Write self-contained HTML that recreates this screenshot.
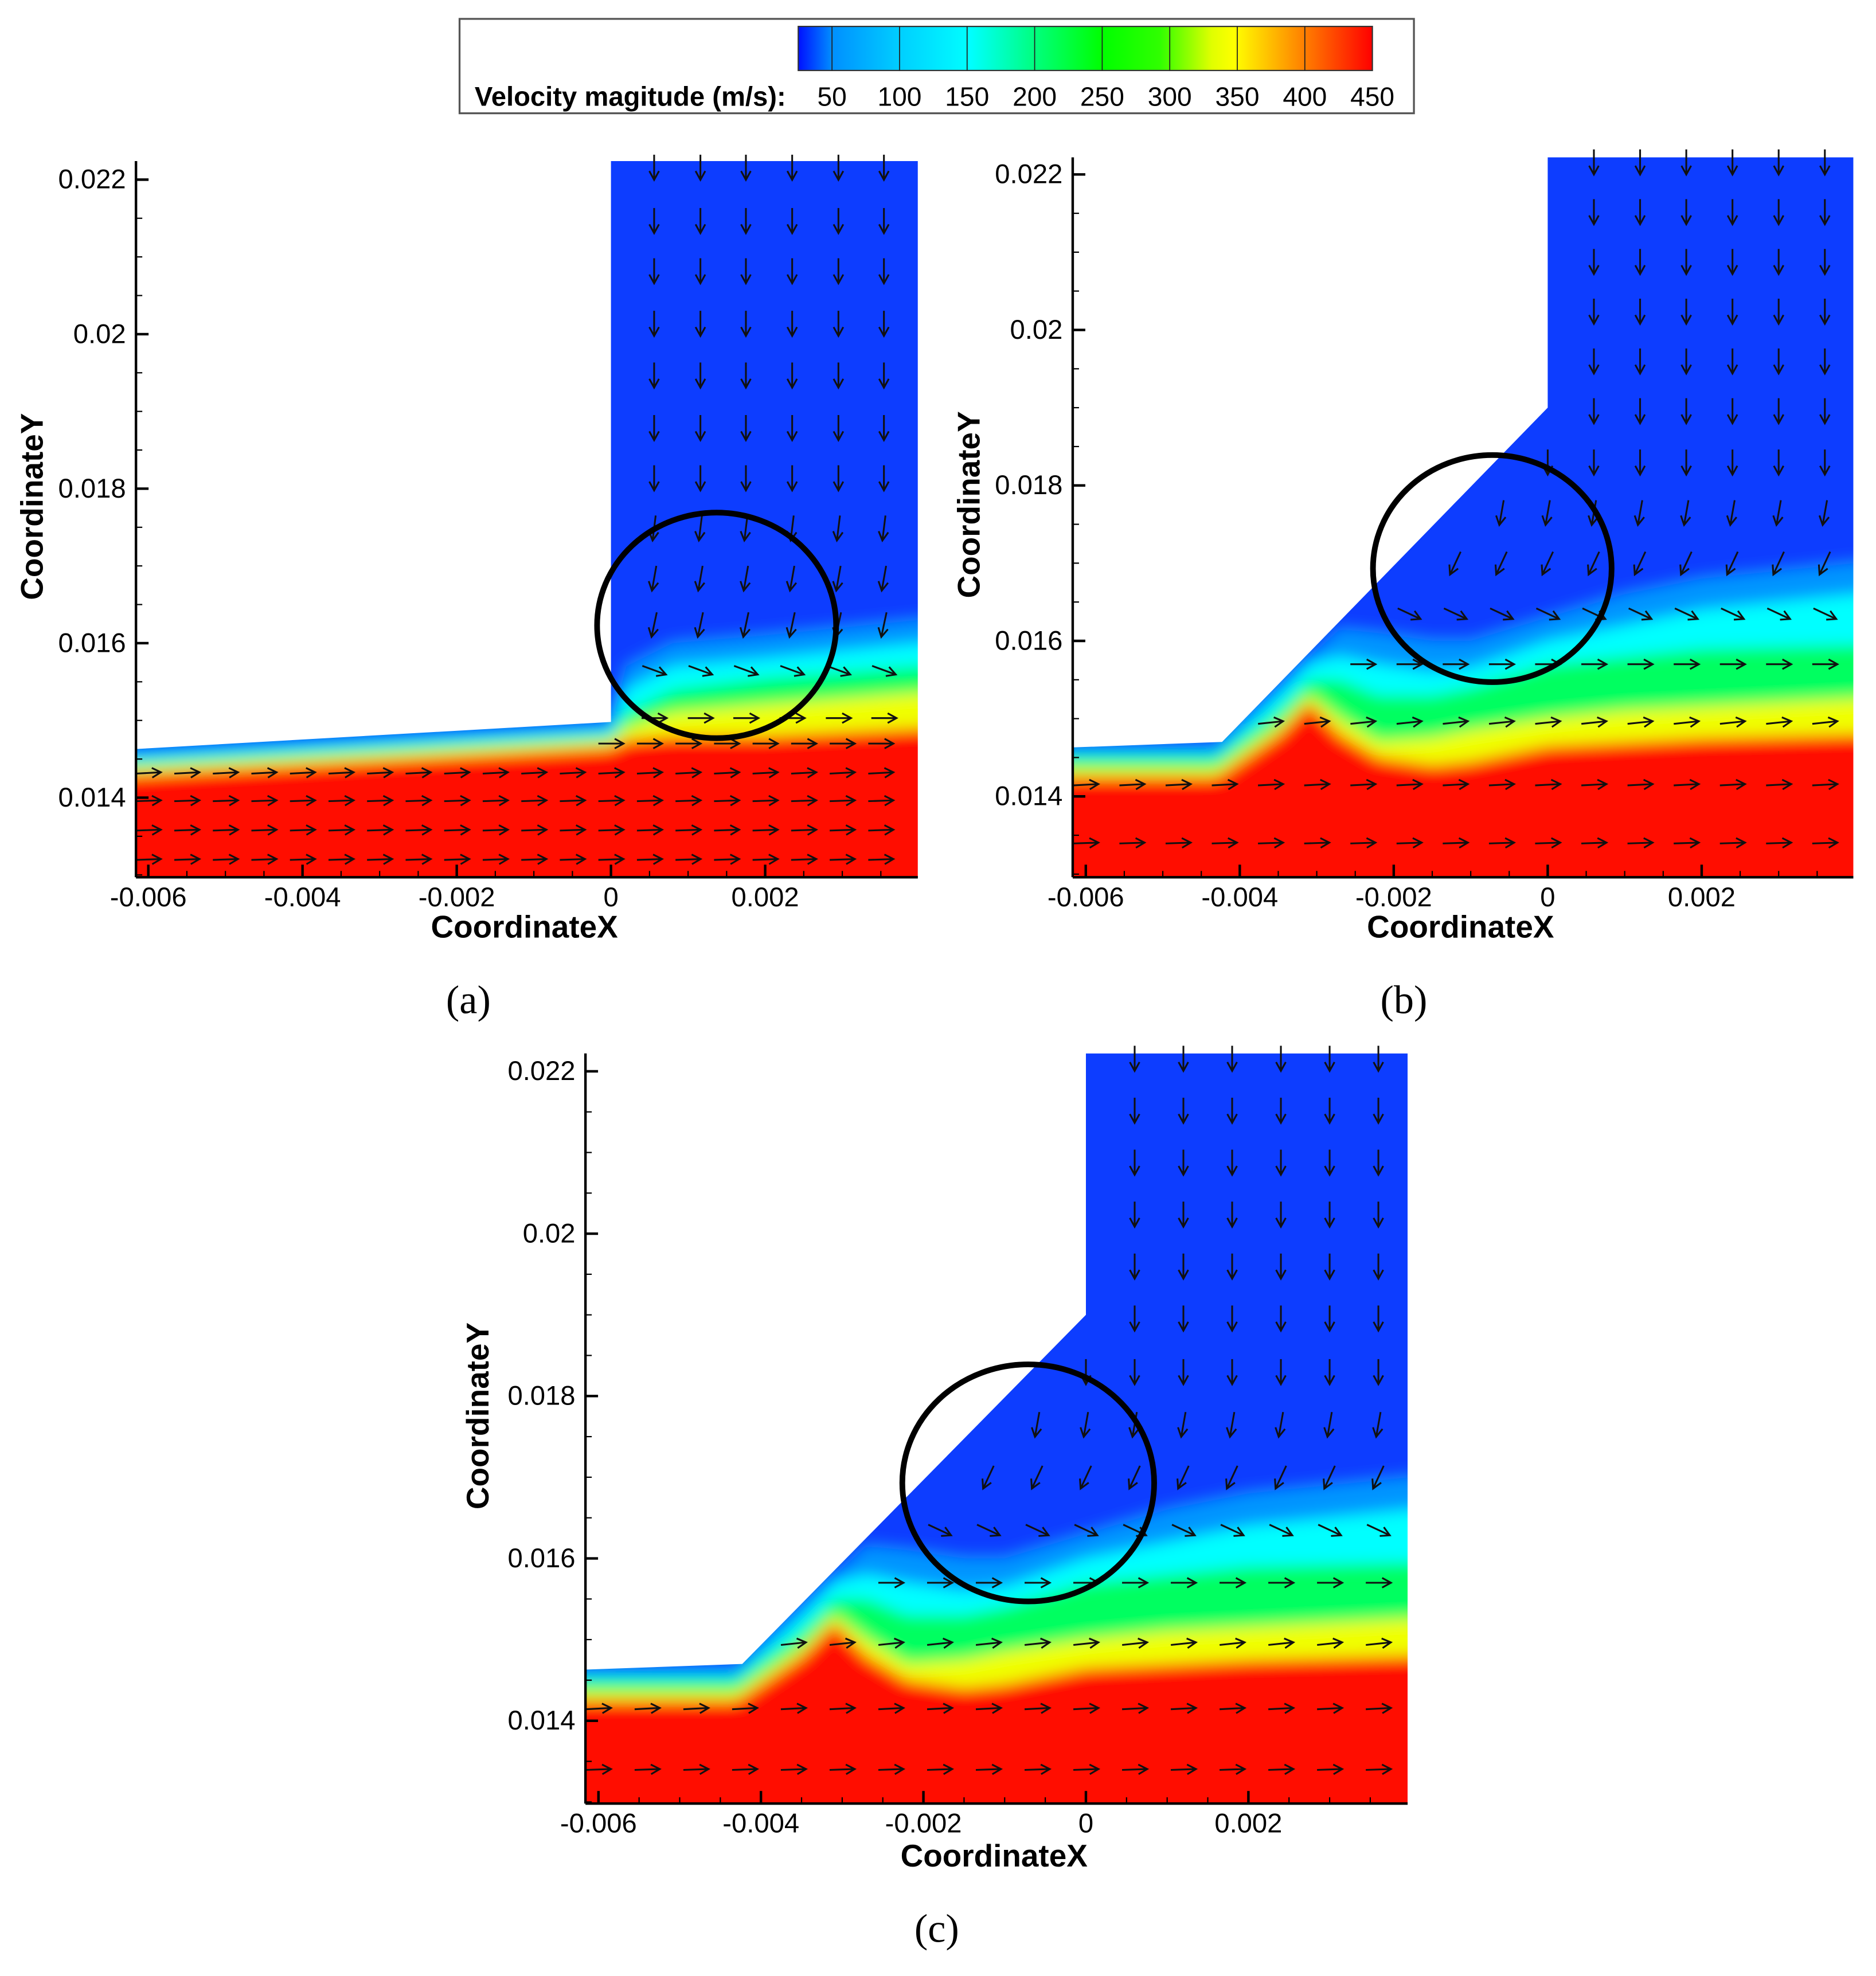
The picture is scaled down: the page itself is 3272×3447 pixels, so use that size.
<!DOCTYPE html>
<html><head><meta charset="utf-8"><style>
html,body{margin:0;padding:0;background:#fff}
svg{display:block}
text{font-family:"Liberation Sans",Arial,sans-serif}
</style></head><body>
<svg id="fig" xmlns="http://www.w3.org/2000/svg" width="3272" height="3447" viewBox="0 0 1490 1570" preserveAspectRatio="none">
<defs>
<linearGradient id="cbar" x1="0" x2="1" y1="0" y2="0">
<stop offset="0" stop-color="#0010ff"/><stop offset="0.06" stop-color="#0090ff"/>
<stop offset="0.18" stop-color="#00d0ff"/><stop offset="0.3" stop-color="#00ffff"/>
<stop offset="0.41" stop-color="#00ff80"/><stop offset="0.53" stop-color="#00ff00"/>
<stop offset="0.63" stop-color="#30ff00"/><stop offset="0.72" stop-color="#e0ff00"/>
<stop offset="0.76" stop-color="#ffff00"/><stop offset="0.88" stop-color="#ff8000"/>
<stop offset="1" stop-color="#ff0000"/>
</linearGradient>
<filter id="blur" x="-5%" y="-5%" width="110%" height="110%"><feGaussianBlur stdDeviation="6"/></filter>
</defs>
<g>
<rect x="365" y="15" width="758" height="75" fill="#fff" stroke="#555" stroke-width="1.5"/>
<rect x="634" y="21" width="456" height="35" fill="url(#cbar)" stroke="#333" stroke-width="1"/>
<g id="cbdiv"></g>
<text x="377" y="84" font-size="21.5" font-weight="bold">Velocity magitude (m/s):</text>
<g id="cblabels"></g>
</g>
<g id="panels"></g>
</svg>
<script>
const NS="http://www.w3.org/2000/svg";
const svg=document.getElementById('fig');
function mk(tag,attrs,parent){const e=document.createElementNS(NS,tag);for(const k in attrs)e.setAttribute(k,attrs[k]);(parent||svg).appendChild(e);return e;}

// legend data
const cbValues=[50,100,150,200,250,300,350,400,450];
const cbMin=25, cbMax=450;
// tick data
const xTickVals=[-0.006,-0.004,-0.002,0,0.002];
const xTickLabels=["-0.006","-0.004","-0.002","0","0.002"];
const yTickVals=[0.014,0.016,0.018,0.02,0.022];
const yTickLabels=["0.014","0.016","0.018","0.02","0.022"];

// panel a geometry & levels
const aWallX=[-0.0062,0];
const aWallY=[0.01463,0.01498];
const aLevelX=[-0.0062,0,0.0002,0.0008,0.002,0.004];
const aL100=[0.01458,0.01493,0.0157,0.0160,0.0161,0.0163];
const aL150=[0.01453,0.01488,0.0154,0.0157,0.0158,0.0160];
const aL200=[0.01446,0.01481,0.0151,0.0154,0.01555,0.0157];
const aL300=[0.01438,0.01473,0.0149,0.0151,0.0152,0.01535];
const aL400=[0.0143,0.01465,0.01475,0.0148,0.0148,0.0149];
const aArrowX=[0.00056,0.00116,0.00175,0.00235,0.00295,0.00354];
const aArrowY=[0.02216,0.02147,0.02082,0.02014,0.01947,0.01879,0.01814,0.01749,0.01684,0.01624,0.01565,0.01503];
const aArrowAng=[90,90,90,90,90,90,90,97,100,102,20,0];
const aLowX=[-0.006,-0.0055,-0.005,-0.0045,-0.004,-0.0035,-0.003,-0.0025,-0.002,-0.0015,-0.001,-0.0005,0,0.0005,0.001,0.0015,0.002,0.0025,0.003,0.0035];
const aLowY=[0.01470,0.01432,0.01396,0.01358,0.01320];
const aLowAng=[0,-3,-2,-2,-2];

// panel b/c geometry & levels (same flow geometry)
const bWallX=[-0.0062,-0.00423,0];
const bWallY=[0.01463,0.0147,0.019];
const bLevelX=[-0.0062,-0.0043,-0.0035,-0.0031,-0.0027,-0.0022,-0.0015,-0.001,0,0.001,0.002,0.004];
const bL100=[0.0146,0.01463,0.01538,0.01578,0.01615,0.0161,0.0160,0.0160,0.0163,0.0166,0.0168,0.0170];
const bL150=[0.01455,0.01455,0.0153,0.0157,0.0158,0.0157,0.0156,0.01565,0.0160,0.0162,0.0164,0.0166];
const bL200=[0.0145,0.0145,0.0151,0.0155,0.0155,0.0153,0.0153,0.0154,0.0157,0.0158,0.0159,0.01595];
const bL300=[0.01435,0.01435,0.0149,0.0153,0.0150,0.0147,0.01475,0.01485,0.0150,0.0151,0.01515,0.01525];
const bL400=[0.01425,0.01425,0.0148,0.0152,0.0148,0.0145,0.0144,0.01445,0.01465,0.0147,0.01475,0.0148];
const bArrowX=[-0.006,-0.0054,-0.0048,-0.0042,-0.0036,-0.003,-0.0024,-0.0018,-0.0012,-0.0006,0,0.0006,0.0012,0.0018,0.0024,0.003,0.0036];
const bArrowY=[0.02216,0.02152,0.02088,0.02024,0.0196,0.01896,0.0183,0.01765,0.0170,0.01635,0.0157,0.01495,0.01415,0.0134];
const bArrowAng=[90,90,90,90,90,90,90,100,115,25,0,-6,-3,-2];

const levelColors=["#0096ff","#00ffff","#00ff60","#f0ff00","#ff1000"];

const panels=[
 {id:'a',L:108,R:729,T:128,B:697,xmin:-0.00616,xmax:0.00398,ymin:0.01297,ymax:0.02224,
  wallX:aWallX,wallY:aWallY,lx:aLevelX,levels:[aL100,aL150,aL200,aL300,aL400],
  arrows:[[aArrowX,aArrowY,aArrowAng],[aLowX,aLowY,aLowAng]],circle:[0.00137,0.01623],
  label:'(a)',lx0:372,ly0:805,ylabX:26,xlabY:745},
 {id:'b',L:852,R:1472,T:125,B:697,xmin:-0.00617,xmax:0.00397,ymin:0.01296,ymax:0.02222,
  wallX:bWallX,wallY:bWallY,lx:bLevelX,levels:[bL100,bL150,bL200,bL300,bL400],
  arrows:[[bArrowX,bArrowY,bArrowAng]],circle:[-0.00072,0.01693],
  label:'(b)',lx0:1115,ly0:805,ylabX:770,xlabY:745},
 {id:'c',L:465,R:1118,T:837,B:1433,xmin:-0.00616,xmax:0.00396,ymin:0.01298,ymax:0.02222,
  wallX:bWallX,wallY:bWallY,lx:bLevelX,levels:[bL100,bL150,bL200,bL300,bL400],
  arrows:[[bArrowX,bArrowY,bArrowAng]],circle:[-0.00071,0.01693],
  label:'(c)',lx0:744,ly0:1543,ylabX:380,xlabY:1483}
];
const circR=[0.00155,0.00146];

// legend
const cbDiv=document.getElementById('cbdiv'), cbLab=document.getElementById('cblabels');
function cbx(v){return 634+(v-cbMin)/(cbMax-cbMin)*456;}
cbValues.forEach((v,i)=>{
  const x=cbx(v);
  if(i<cbValues.length-1){const l=mk('line',{x1:x,x2:x,y1:21,y2:56,stroke:'#222','stroke-width':0.8},cbDiv);
  
  }
  const t=mk('text',{x:x,y:84,'font-size':21,'text-anchor':'middle'},cbLab);
  t.textContent=String(v);
  
  
});

function interp(xs,ys,x){if(x<=xs[0])return ys[0];for(let i=1;i<xs.length;i++){if(x<=xs[i]){const t=(x-xs[i-1])/(xs[i]-xs[i-1]);return ys[i-1]+t*(ys[i]-ys[i-1]);}}return null;}

const root=document.getElementById('panels');
panels.forEach(p=>{
  const sx=(p.R-p.L)/(p.xmax-p.xmin), sy=(p.B-p.T)/(p.ymax-p.ymin);
  const X=x=>p.L+(x-p.xmin)*sx, Y=y=>p.B-(y-p.ymin)*sy;
  const g=mk('g',{},root);
  
  
  const cp=mk('clipPath',{id:'clip'+p.id},g);
  let pts=[];
  p.wallX.forEach((x,i)=>pts.push([Math.max(x,p.xmin),p.wallY[i]]));
  const lastX=p.wallX[p.wallX.length-1];
  pts.push([lastX,p.ymax],[p.xmax,p.ymax],[p.xmax,p.ymin],[p.xmin,p.ymin]);
  mk('polygon',{points:pts.map(q=>X(q[0])+','+Y(q[1])).join(' ')},cp);
  const field=mk('g',{'clip-path':'url(#clip'+p.id+')'},g);
  
  
  const fg=mk('g',{filter:'url(#blur)'},field);
  mk('rect',{x:p.L-30,y:p.T-30,width:p.R-p.L+60,height:p.B-p.T+60,fill:'#0a3cff'},fg);
  p.levels.forEach((lv,k)=>{
    const pp=p.lx.map((x,i)=>X(x)+','+Y(lv[i]));
    pp.push((X(p.lx[p.lx.length-1])+40)+','+Y(lv[lv.length-1]));
    pp.push((p.R+40)+','+(p.B+40),(p.L-40)+','+(p.B+40),(p.L-40)+','+Y(lv[0]));
    const poly=mk('polygon',{points:pp.join(' '),fill:levelColors[k]},fg);
    
    
  });
  const ag=mk('g',{stroke:'#111','stroke-width':1.4,fill:'none'},g);
  
  
  p.arrows.forEach(set=>{
    const [xs,ys,angs]=set;
    ys.forEach((y,j)=>xs.forEach(x=>{
      if(x<p.xmin||x>p.xmax)return;
      const w=interp(p.wallX,p.wallY,x);
      if(w!==null && y>w-0.00026)return;
      const cx=X(x),cy=Y(y),a=angs[j]*Math.PI/180,len=20;
      const dx=Math.cos(a)*len/2,dy=Math.sin(a)*len/2;
      const tx=cx+dx,ty=cy+dy;
      const h=8,s=0.5;
      const a1=a+Math.PI-s,a2=a+Math.PI+s;
      const path=mk('path',{d:`M${cx-dx},${cy-dy}L${tx},${ty}M${tx+Math.cos(a1)*h},${ty+Math.sin(a1)*h}L${tx},${ty}L${tx+Math.cos(a2)*h},${ty+Math.sin(a2)*h}`},ag);
      
      
    }));
  });
  const c=mk('ellipse',{cx:X(p.circle[0]),cy:Y(p.circle[1]),rx:circR[0]*sx,ry:circR[1]*sy,fill:'none',stroke:'#000','stroke-width':4.5},g);
  
  
  const ax=mk('g',{stroke:'#000','stroke-width':2},g);
  
  
  mk('line',{x1:p.L,x2:p.L,y1:p.T,y2:p.B},ax);
  mk('line',{x1:p.L,x2:p.R,y1:p.B,y2:p.B},ax);
  for(let v=0.0130;v<=p.ymax+1e-9;v+=0.0005){mk('line',{x1:p.L,x2:p.L+5,y1:Y(v),y2:Y(v),'stroke-width':1},ax);}
  for(let v=-0.006;v<=p.xmax+1e-9;v+=0.0005){mk('line',{x1:X(v),x2:X(v),y1:p.B,y2:p.B-5,'stroke-width':1},ax);}
  xTickVals.forEach((v,i)=>{
    mk('line',{x1:X(v),x2:X(v),y1:p.B,y2:p.B-10},ax);
    const t=mk('text',{x:X(v),y:p.B+23,'font-size':21.5,'text-anchor':'middle'},g);
    t.textContent=xTickLabels[i];
    
    
  });
  yTickVals.forEach((v,i)=>{
    mk('line',{x1:p.L,x2:p.L+10,y1:Y(v),y2:Y(v)},ax);
    const t=mk('text',{x:p.L-8,y:Y(v)+7,'font-size':21.5,'text-anchor':'end'},g);
    t.textContent=yTickLabels[i];
    
    
  });
  const xt=mk('text',{x:(p.L+p.R)/2-2,y:p.xlabY,'font-size':25,'font-weight':'bold','text-anchor':'middle'},g);
  xt.textContent='CoordinateX';
  
  
  const ymid=(p.T+p.B)/2-10;
  const yt=mk('text',{x:p.ylabX+8,y:ymid,'font-size':25,'font-weight':'bold','text-anchor':'middle',transform:`rotate(-90 ${p.ylabX+8} ${ymid})`},g);
  yt.textContent='CoordinateY';
  
  
  const lb=mk('text',{x:p.lx0,y:p.ly0,'font-size':32,'text-anchor':'middle'},g);
  lb.setAttribute('style','font-family:"Liberation Serif",serif');
  lb.textContent=p.label;
  
  
});
</script>
</body></html>
